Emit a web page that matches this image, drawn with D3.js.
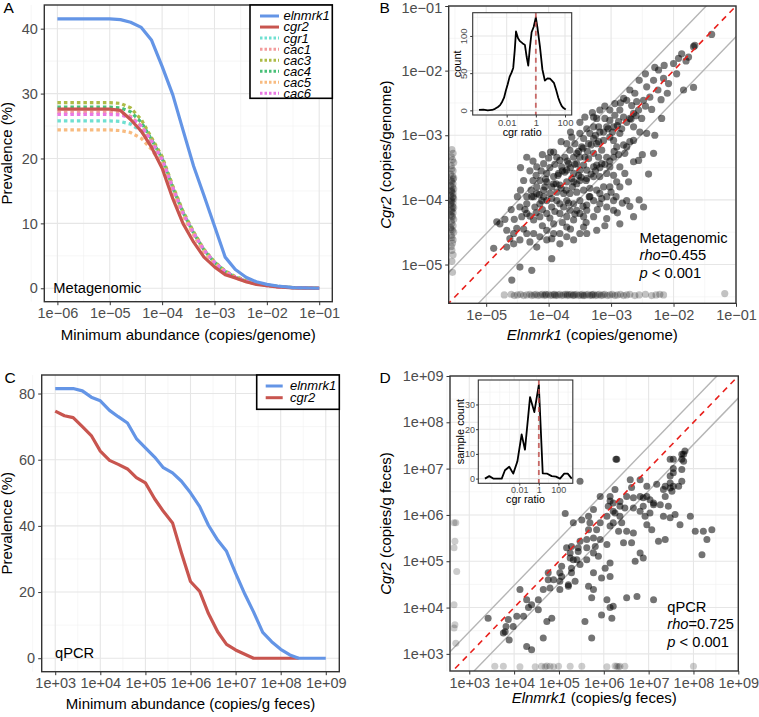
<!DOCTYPE html>
<html lang="en">
<head>
<meta charset="utf-8">
<title>Elnmrk1 / cgr2 prevalence and abundance</title>
<script src="https://cdn.jsdelivr.net/npm/d3@7/dist/d3.min.js"></script>
<style>
  html, body { margin: 0; padding: 0; background: #fff; }
  svg text { font-family: "Liberation Sans", Arial, Helvetica, sans-serif; }
</style>
</head>
<body>
<script>
// ---------------- data ----------------
// panel A: prevalence (%) vs minimum abundance (copies/genome)
var thrA = [1e-6, 3.2e-6, 1e-5, 1.6e-5, 2.5e-5, 4e-5, 6.3e-5, 1e-4, 1.6e-4, 2.5e-4, 4e-4,
            6.3e-4, 1e-3, 1.6e-3, 2.5e-3, 4e-3, 6.3e-3, 1e-2, 1.6e-2, 3.2e-2, 1e-1];
var aElnmrk1 = [41.5,41.5,41.5,41.4,41.0,40.2,38.2,34.2,29.8,24.4,18.8,14.3,9.6,4.8,2.9,1.7,1.0,0.6,0.35,0.1,0];
var aCgr2    = [27.6,27.6,27.6,27.4,26.0,24.2,21.7,18.5,13.8,10.0,7.1,4.8,3.3,2.1,1.6,1.0,0.6,0.4,0.2,0.05,0];
var aCgr1    = [25.8,25.8,25.8,25.7,25.3,24.2,22.2,19.6,15.3,11.5,8.4,5.8,3.9,2.5,1.7,1.1,0.7,0.4,0.2,0.1,0];
var aCac1    = [27.1,27.1,27.1,27.0,26.5,25.0,22.6,19.7,15.2,11.4,8.3,5.7,3.9,2.5,1.7,1.1,0.7,0.4,0.2,0.1,0];
var aCac3    = [28.6,28.6,28.6,28.5,27.8,26.0,23.2,20.3,15.8,11.9,8.7,6.0,4.1,2.7,1.8,1.2,0.8,0.5,0.3,0.1,0];
var aCac4    = [27.9,27.9,27.9,27.8,27.2,25.6,22.9,20.0,15.5,11.7,8.5,5.9,4.0,2.6,1.7,1.1,0.7,0.5,0.3,0.1,0];
var aCac5    = [24.4,24.4,24.4,24.3,24.0,23.1,21.4,19.0,14.9,11.2,8.2,5.6,3.8,2.5,1.6,1.0,0.7,0.4,0.2,0.1,0];
var aCac6    = [26.8,26.8,26.8,26.7,26.3,25.0,22.7,19.9,15.5,11.6,8.5,5.9,4.0,2.6,1.7,1.1,0.7,0.4,0.2,0.1,0];

// panel C: prevalence (%) vs minimum abundance (copies/g feces)
var thrC = [1e3,1.6e3,2.5e3,4e3,6.3e3,1e4,1.6e4,2.5e4,4e4,6.3e4,1e5,1.6e5,2.5e5,4e5,6.3e5,
            1e6,1.6e6,2.5e6,4e6,6.3e6,1e7,1.6e7,2.5e7,4e7,6.3e7,1e8,1.6e8,2.5e8,4e8,6.3e8,1e9];
var cElnmrk1 = [81.5,81.5,81.5,80.8,78.9,77.8,74.9,73.0,71.1,66.4,63.6,60.8,57.6,56.0,53.5,
                50.0,45.8,40.2,35.7,32.3,25.7,19.4,14.0,7.8,5.0,2.7,1.0,0,0,0,0];
var cCgr2    = [74.7,73.3,72.7,70.0,67.3,62.6,59.8,58.6,57.2,54.6,53.0,48.2,44.4,40.9,31.8,
                23.2,20.2,13.5,8.0,4.2,2.5,1.2,0,0,0,0,0,0];

// panel B: log10 (elnmrk1, cgr2) copies/genome, one pair per sample
var bCloud = [
 [-1.39,-1.44],[-1.66,-1.61],[-1.68,-1.63],[-1.87,-1.74],[-1.76,-1.79],[-2.0,-1.89],[-1.92,-1.81],
 [-2.16,-2.12],[-2.24,-1.99],[-2.08,-2.2],[-1.84,-2.3],[-1.68,-2.26],[-2.32,-2.15],
 [-2.43,-2.25],[-2.38,-2.41],[-2.48,-2.46],[-2.59,-2.48],[-2.67,-2.54],[-2.75,-2.46],[-2.56,-2.61],
 [-2.64,-2.66],[-2.86,-2.61],[-2.8,-2.72],[-2.94,-2.69],[-3.02,-2.77],[-2.7,-2.74],[-2.51,-2.74],
 [-2.64,-2.87],[-2.54,-2.95],[-2.43,-2.97],[-2.19,-2.74],[-2.32,-3.28],[-2.64,-3.08],[-2.75,-3.18],
 [-2.86,-2.97],[-2.96,-3.08],[-2.91,-3.18],[-2.78,-3.28],[-2.64,-3.41],[-2.56,-3.39],[-2.8,-2.43],
 [-3.18,-2.61],[-3.23,-2.74],[-3.42,-2.72],[-3.28,-2.87],[-3.39,-2.9],[-3.5,-2.97],[-3.58,-3.13],
 [-3.34,-2.97],[-3.18,-2.95],[-3.07,-2.87],[-3.02,-3.03],[-3.12,-3.08],[-3.23,-3.13],[-3.36,-3.13],
 [-3.47,-3.18],[-3.55,-3.28],[-3.66,-3.23],[-3.74,-3.34],[-3.92,-3.26],[-3.82,-3.39],[-3.68,-3.44],
 [-3.55,-3.44],[-3.42,-3.34],[-3.28,-3.28],[-3.15,-3.23],[-3.07,-3.34],[-2.96,-3.34],[-3.02,-3.49],
 [-3.15,-3.44],[-3.28,-3.49],[-3.39,-3.54],[-3.5,-3.54],[-3.6,-3.59],[-3.74,-3.57],[-3.84,-3.59],
 [-3.92,-3.64],[-4.03,-3.59],[-4.08,-3.44],[-4.19,-3.49],[-4.35,-3.34],[-4.14,-3.7],[-4.03,-3.72],
 [-3.92,-3.75],[-3.82,-3.77],[-3.71,-3.72],[-3.6,-3.72],[-3.5,-3.7],[-3.39,-3.67],[-3.28,-3.64],
 [-3.18,-3.64],[-3.07,-3.59],[-2.96,-3.62],[-2.86,-3.49],[-2.78,-3.59],[-2.91,-3.72],[-3.02,-3.8],
 [-3.12,-3.8],[-3.23,-3.85],[-3.34,-3.82],[-3.44,-3.85],[-3.55,-3.88],[-3.66,-3.9],[-3.76,-3.9],
 [-3.87,-3.88],[-3.98,-3.9],[-4.08,-3.85],[-4.19,-3.9],[-4.24,-3.95],[-4.35,-3.95],[-3.82,-4.06],
 [-3.71,-4.01],[-3.6,-4.06],[-3.5,-4.01],[-3.39,-4.08],[-3.28,-4.01],[-3.18,-4.06],[-3.07,-4.11],
 [-2.96,-4.01],[-2.75,-4.01],[-2.48,-4.11],[-3.95,-4.11],[-4.03,-4.01],[-4.14,-4.06],[-4.27,-3.95],
 [-4.46,-4.11],[-3.82,-4.21],[-3.71,-4.26],[-3.6,-4.31],[-3.5,-4.21],[-3.39,-4.16],[-3.28,-4.26],
 [-3.07,-4.29],[-2.96,-4.16],[-2.86,-4.37],[-2.64,-4.26],[-4.03,-4.21],[-4.14,-4.26],[-4.24,-4.31],
 [-4.35,-4.21],[-3.92,-4.37],[-3.71,-4.42],[-3.5,-4.52],[-3.6,-4.62],[-3.39,-4.52],[-3.82,-4.52],
 [-4.03,-4.47],[-4.14,-4.57],[-4.24,-4.52],[-4.35,-4.52],[-4.46,-4.62],[-4.56,-4.52],[-4.67,-4.47],
 [-4.78,-4.37],[-4.83,-4.34],[-4.51,-4.44],[-4.67,-4.73],[-4.56,-4.68],[-4.46,-5.04],[-4.27,-5.09],
 [-4.59,-5.24],[-3.95,-4.91],[-4.88,-4.75],
 [-3.97,-3.26],[-3.87,-3.34],[-3.71,-3.13],[-3.63,-3.03],[-3.44,-3.05],[-3.28,-3.05],[-3.2,-2.87],
 [-3.1,-2.74],[-2.96,-2.87],[-2.88,-2.79],[-3.02,-2.61],[-2.94,-2.51],[-3.28,-2.72],[-3.79,-3.49],
 [-3.71,-3.54],[-3.63,-3.67],[-3.52,-3.62],[-3.44,-3.46],[-3.36,-3.36],[-3.2,-3.34],[-3.23,-3.46],
 [-3.5,-3.34],[-3.6,-3.34],[-4.06,-3.8],[-3.95,-3.8],[-4.19,-3.8],[-4.11,-4.01],[-4.22,-4.11],
 [-3.87,-4.01],[-3.76,-4.11],[-3.66,-4.16],[-3.55,-4.16],[-3.44,-4.26],[-4.35,-4.06],[-4.43,-4.26],
 [-3.92,-4.52],[-3.71,-4.57],[-3.23,-4.47],[-3.44,-4.42],[-3.82,-4.68],[-4.03,-4.62],[-4.19,-4.73],
 [-3.34,-3.95],[-3.18,-3.9],[-3.07,-3.95],[-2.86,-3.8],[-2.72,-3.72],
 [-4.3,-3.55],[-4.25,-3.7],[-4.2,-3.62],[-4.12,-3.55],[-4.05,-3.68],[-3.98,-3.5],[-3.9,-3.45],
 [-3.85,-3.62],[-3.78,-3.55],[-3.7,-3.4],[-3.65,-3.5],[-3.58,-3.45],[-3.52,-3.25],[-3.45,-3.2],
 [-3.38,-3.25],[-3.32,-3.15],[-3.25,-3.0],[-3.2,-3.1],[-3.12,-2.95],[-3.05,-2.9],[-2.98,-2.95],
 [-2.9,-2.85],[-2.83,-2.9],[-2.75,-2.8],[-2.68,-2.75],[-2.6,-2.7],
 [-4.28,-3.85],[-4.15,-3.92],[-4.08,-3.95],[-3.95,-3.98],[-3.88,-3.75],[-3.8,-3.82],[-3.72,-3.85],
 [-3.62,-3.8],[-3.55,-3.75],[-3.48,-3.65],[-3.4,-3.7],[-3.32,-3.6],[-3.25,-3.55],[-3.18,-3.5],
 [-3.1,-3.45],[-3.02,-3.4],[-2.95,-3.25],[-2.88,-3.3],[-2.8,-3.15],[-2.7,-3.1],
 [-4.38,-4.15],[-4.3,-4.25],[-4.2,-4.2],[-4.1,-4.15],[-3.98,-4.28],[-3.9,-4.18],[-3.78,-4.35],
 [-3.68,-4.05],[-3.58,-4.22],[-3.45,-4.1],[-3.35,-3.95],[-3.22,-4.15],[-3.15,-3.98],[-3.0,-3.88],
 [-2.92,-3.95],[-2.82,-4.05],
 [-4.45,-3.85],[-4.5,-3.95],[-4.4,-3.7],[-4.6,-4.15],[-4.55,-4.3],[-4.7,-4.3],[-4.62,-4.6],
 [-4.4,-4.45],[-4.3,-4.65],[-4.1,-4.4],[-3.95,-4.6],[-3.65,-4.45],[-3.4,-4.35],[-3.1,-4.4],
 [-2.9,-4.2],[-2.7,-4.1],[-2.55,-4.0],[-2.4,-3.6],[-2.5,-3.3],[-2.3,-3.0],[-2.35,-2.6],
 [-2.45,-2.55],[-2.62,-2.35],[-2.7,-2.3],[-2.85,-2.5],[-3.1,-2.55],[-3.3,-2.65],[-3.5,-2.8],
 [-3.65,-2.95],[-3.8,-3.1],[-4.0,-3.35],[-4.1,-3.3],[-4.25,-3.4],[-4.45,-3.5],
 [-2.2,-2.45],[-2.25,-2.3],[-2.1,-2.35],[-2.55,-2.15],[-2.45,-2.05],[-2.3,-1.95],[-2.15,-1.92],
 [-1.95,-2.05],[-1.8,-1.85]
];
// samples with no elnmrk1 detected (left strip) and no cgr2 detected (bottom strip)
var bZeroElnmrk = [
 [-5.55,-3.22],[-5.53,-3.28],[-5.56,-3.33],[-5.54,-3.38],[-5.52,-3.42],[-5.56,-3.47],[-5.55,-3.52],
 [-5.53,-3.55],[-5.57,-3.6],[-5.54,-3.63],[-5.52,-3.66],[-5.56,-3.7],[-5.55,-3.72],[-5.53,-3.75],
 [-5.57,-3.78],[-5.54,-3.8],[-5.52,-3.83],[-5.56,-3.86],[-5.55,-3.88],[-5.53,-3.9],[-5.57,-3.93],
 [-5.54,-3.96],[-5.52,-3.98],[-5.56,-4.0],[-5.55,-4.02],[-5.53,-4.05],[-5.57,-4.07],[-5.54,-4.1],
 [-5.52,-4.12],[-5.56,-4.15],[-5.55,-4.18],[-5.53,-4.2],[-5.57,-4.23],[-5.54,-4.26],[-5.52,-4.3],
 [-5.56,-4.33],[-5.55,-4.36],[-5.53,-4.4],[-5.57,-4.43],[-5.54,-4.47],[-5.52,-4.5],[-5.56,-4.55],
 [-5.55,-4.58],[-5.53,-4.62],[-5.54,-4.67],[-5.56,-4.72],[-5.55,-4.78],[-5.53,-4.85],[-5.55,-4.95],
 [-5.54,-5.12],[-5.55,-3.85],[-5.53,-3.95],[-5.56,-4.04],[-5.54,-4.14],[-5.55,-4.25],[-5.53,-3.68],
 [-5.56,-4.45]
];
var bZeroCgr = [
 [-4.71,-5.47],[-4.6,-5.46],[-4.55,-5.48],[-4.5,-5.47],[-4.45,-5.46],[-4.4,-5.48],[-4.35,-5.47],
 [-4.3,-5.46],[-4.27,-5.48],[-4.23,-5.47],[-4.2,-5.46],[-4.17,-5.48],[-4.13,-5.47],[-4.1,-5.46],
 [-4.07,-5.48],[-4.04,-5.47],[-4.0,-5.46],[-3.97,-5.48],[-3.94,-5.47],[-3.91,-5.46],[-3.88,-5.48],
 [-3.85,-5.47],[-3.82,-5.46],[-3.79,-5.48],[-3.76,-5.47],[-3.73,-5.46],[-3.7,-5.48],[-3.67,-5.47],
 [-3.64,-5.46],[-3.61,-5.48],[-3.58,-5.47],[-3.55,-5.46],[-3.52,-5.48],[-3.49,-5.47],[-3.46,-5.46],
 [-3.43,-5.48],[-3.4,-5.47],[-3.37,-5.46],[-3.34,-5.48],[-3.31,-5.47],[-3.28,-5.46],[-3.25,-5.48],
 [-3.22,-5.47],[-3.19,-5.46],[-3.16,-5.48],[-3.13,-5.47],[-3.1,-5.46],[-3.06,-5.48],[-3.02,-5.47],
 [-2.98,-5.46],[-2.94,-5.48],[-2.9,-5.47],[-2.85,-5.46],[-2.8,-5.48],[-2.75,-5.47],[-2.7,-5.46],
 [-2.62,-5.48],[-2.55,-5.47],[-2.45,-5.46],[-2.35,-5.48],[-2.28,-5.47],[-2.22,-5.46],[-2.16,-5.47],
 [-1.18,-5.45],[-3.9,-5.47],[-3.6,-5.47],[-3.3,-5.47],[-3.7,-5.46],[-3.45,-5.48],[-4.05,-5.46]
];
// inset B: log10 cgr ratio vs count
var insBRatio = [-3.9,-3.6,-3.3,-3.0,-2.8,-2.6,-2.45,-2.3,-2.18,-2.05,-1.93,-1.8,-1.66,-1.55,-1.45,
                 -1.36,-1.22,-1.09,-0.9,-0.75,-0.63,-0.52,-0.42,-0.29,-0.15,0,0.12,0.28,0.45,0.62,
                 0.8,0.97,1.1,1.24,1.4,1.54,1.65,1.77,1.9,2.05];
var insBCount = [0.5,1,0,0.5,2,4.5,7,12,17,27,35,45,51,57,80,106,97,93,90,88,72,60,82,105,112,125,
                 110,86,55,40,43,42.5,40,37,27,17,11,6,3,1];

// panel D: log10 (elnmrk1, cgr2) copies/g feces
var dCloud = [
 [6.27,7.2],[5.47,6.73],[5.14,6.03],[5.51,5.89],[5.92,6.4],[6.25,6.55],[6.14,6.4],[6.1,6.19],
 [6.21,6.08],[6.36,6.19],[6.51,6.4],[6.66,6.37],[6.81,6.4],[6.96,6.4],[6.81,6.76],[6.96,6.62],
 [7.18,6.66],[6.62,6.59],[6.59,6.76],[6.88,6.37],[7.03,6.33],[7.11,6.22],[7.26,6.22],[7.37,6.4],
 [7.33,6.55],[7.52,6.51],[7.48,6.84],[7.55,6.91],[7.55,7.2],[7.74,7.2],[7.55,7.0],[7.74,6.98],
 [7.78,7.16],[7.67,6.62],[7.55,6.62],[7.74,6.73],[7.48,6.69],[7.37,6.62],[7.48,7.2],[7.78,7.31],
 [7.74,7.31],[7.48,6.58],[7.81,7.38],[7.44,6.19],[7.59,6.01],[7.33,5.97],[7.48,5.94],[7.7,5.79],
 [7.93,5.97],[8.04,5.65],[8.22,5.65],[8.41,5.68],[8.3,5.47],[8.19,5.14],[7.37,5.47],[7.22,5.43],
 [7.07,5.68],[6.96,5.79],[6.88,5.07],[6.7,5.0],[6.81,5.18],[6.66,5.61],[6.51,5.65],[6.62,5.4],
 [6.44,5.4],[6.4,5.83],[6.33,5.65],[6.21,5.83],[6.14,5.76],[6.07,5.36],[5.92,5.47],[5.81,5.32],
 [5.62,5.47],[5.66,5.97],[5.69,5.83],[5.66,5.68],[5.77,5.5],[5.88,5.11],[5.77,5.18],[5.47,5.43],
 [5.28,5.32],[5.17,5.29],[5.25,5.18],[5.43,5.21],[5.62,5.03],[5.47,4.93],[5.28,4.75],[5.21,4.49],
 [5.21,4.46],[5.02,4.57],[5.06,4.67],[4.88,4.6],[4.76,4.75],[4.8,4.42],[4.76,4.6],[4.65,4.39],
 [4.54,4.17],[4.39,4.06],[4.28,4.17],[4.13,4.39],[4.32,4.0],[4.54,3.95],[4.73,3.7],[4.84,3.77],
 [4.21,3.81],[4.06,3.81],[3.98,3.59],[3.87,3.74],[3.82,3.59],[3.8,3.48],[3.76,3.45],[3.89,3.3],
 [3.42,3.77],[4.28,3.16],[4.39,3.09],[4.65,3.34],[5.02,4.75],[5.06,4.89],[5.28,4.85],[5.36,4.57],
 [5.66,4.46],[5.77,4.75],[6.03,4.85],[6.14,4.96],[6.14,4.67],[6.07,4.17],[5.73,4.21],[5.73,3.34],
 [6.14,4.0],[6.21,4.03],[6.51,4.21],[6.74,4.24],[7.11,4.17],[6.18,3.77],[5.95,3.84],[5.58,3.7],
 [5.4,5.03],[5.43,5.29],[5.62,5.29],[5.84,5.68],[5.92,5.83],[6.07,5.97],[6.25,6.04],[6.36,5.97],
 [6.47,6.15],[6.66,6.15],[6.81,6.08],[6.88,6.19],[6.92,5.97],[7.11,6.26],[7.03,6.04],[6.36,6.29],
 [6.21,6.26],[6.14,6.3],[5.77,6.12],[5.32,5.83],[5.32,5.03],[5.25,5.07],[5.77,4.39],[5.95,4.64],
 [5.02,4.39],[6.29,7.2]
];
var dZeroElnmrk = [[2.66,5.83],[2.7,5.83],[2.68,5.43],[2.66,5.29],[2.72,4.78],[2.66,4.06],
                   [2.68,3.63],[2.66,3.56],[2.7,3.23]];
var dZeroCgr = [[3.57,2.73],[3.76,2.73],[4.13,2.72],[4.47,2.72],[4.61,2.73],[4.69,2.72],[4.73,2.74],
                [4.8,2.73],[4.88,2.72],[4.99,2.73],[5.25,2.73],[5.51,2.73],[6.07,2.72],[6.25,2.74],
                [6.29,2.73],[6.33,2.72],[6.36,2.73],[6.47,2.73],[8.0,2.73]];
// inset D: log10 cgr ratio vs sample count
var insDRatio = [-5.52,-5.08,-4.67,-3.8,-3.47,-3.03,-2.62,-2.2,-1.76,-1.42,-0.9,-0.46,0,0.4,0.87,
                 1.32,1.76,2.17,2.6,2.96,3.37];
var insDCount = [0,1,0,0,3.4,4.8,2,6.9,17.9,11.7,33,26.9,37.9,2.1,2,1,0.8,0,2,2,0];

// ---------------- drawing ----------------
var BLUE = "#6495e6", RED = "#c8554f", INK = "#333333", TICKTXT = "#4d4d4d";

var svg = d3.select("body").append("svg")
    .attr("width", 759).attr("height", 717);

function sci(v) {
  var e = Math.round(Math.log10(v));
  var a = Math.abs(e);
  return "1e" + (e < 0 ? "\u2212" : "+") + (a < 10 ? "0" : "") + a;
}
function decades(lo, hi) { return d3.range(lo, hi + 1).map(function(e) { return Math.pow(10, e); }); }
function halfDecades(lo, hi) { return d3.range(lo, hi).map(function(e) { return Math.pow(10, e + 0.5); }); }

function makePanel(o) {
  var g = svg.append("g").attr("transform", "translate(" + o.left + "," + o.top + ")");
  g.append("rect").attr("width", o.w).attr("height", o.h).attr("fill", "#fff");
  g.append("clipPath").attr("id", "clip" + o.name)
    .append("rect").attr("width", o.w).attr("height", o.h);
  var grid = g.append("g");
  grid.selectAll(".vmin").data(o.xMinor).join("line")
      .attr("x1", o.x).attr("x2", o.x).attr("y1", 0).attr("y2", o.h)
      .attr("stroke", "#f0f0f0").attr("stroke-width", 0.6);
  grid.selectAll(".hmin").data(o.yMinor).join("line")
      .attr("y1", o.y).attr("y2", o.y).attr("x1", 0).attr("x2", o.w)
      .attr("stroke", "#f0f0f0").attr("stroke-width", 0.6);
  grid.selectAll(".vmaj").data(o.xMajor).join("line")
      .attr("x1", o.x).attr("x2", o.x).attr("y1", 0).attr("y2", o.h)
      .attr("stroke", "#e6e6e6").attr("stroke-width", 1.1);
  grid.selectAll(".hmaj").data(o.yMajor).join("line")
      .attr("y1", o.y).attr("y2", o.y).attr("x1", 0).attr("x2", o.w)
      .attr("stroke", "#e6e6e6").attr("stroke-width", 1.1);

  var ax = g.append("g").attr("transform", "translate(0," + o.h + ")")
      .call(d3.axisBottom(o.x).tickValues(o.xMajor).tickFormat(o.xFmt).tickSize(o.tick).tickPadding(o.pad));
  var ay = g.append("g")
      .call(d3.axisLeft(o.y).tickValues(o.yMajor).tickFormat(o.yFmt).tickSize(o.tick).tickPadding(o.pad));
  [ax, ay].forEach(function(a) {
    a.select(".domain").remove();
    a.selectAll("line").attr("stroke", INK).attr("stroke-width", o.tickW || 1);
    a.selectAll("text").attr("fill", TICKTXT).attr("font-size", o.fs)
      .attr("font-family", '"Liberation Sans", Arial, sans-serif');
  });
  var plot = g.append("g").attr("clip-path", "url(#clip" + o.name + ")");
  return {
    g: g, plot: plot, ax: ax, ay: ay,
    border: function() {
      g.append("rect").attr("width", o.w).attr("height", o.h)
        .attr("fill", "none").attr("stroke", INK).attr("stroke-width", o.bw || 1.4);
    }
  };
}

function label(x, y, txt, size, opts) {
  opts = opts || {};
  var t = svg.append("text").attr("x", x).attr("y", y).attr("font-size", size)
      .attr("fill", opts.fill || "#000").attr("text-anchor", opts.anchor || "start");
  if (opts.rotate) t.attr("transform", "rotate(-90," + x + "," + y + ")");
  (Array.isArray(txt) ? txt : [[txt, false]]).forEach(function(p) {
    t.append("tspan").text(p[0]).attr("font-style", p[1] ? "italic" : "normal");
  });
  return t;
}

var line = d3.line();

// ---- Panel A ----
(function() {
  var x = d3.scaleLog().domain([Math.pow(10, -6.25), Math.pow(10, -0.75)]).range([0, 288]);
  var y = d3.scaleLinear().domain([-2.07, 43.65]).range([296.7, 0]);
  var p = makePanel({name: "A", left: 44.3, top: 5, w: 288, h: 296.7, x: x, y: y,
    xMajor: decades(-6, -1), xMinor: halfDecades(-7, -1),
    yMajor: [0, 10, 20, 30, 40], yMinor: [5, 15, 25, 35],
    xFmt: sci, yFmt: d3.format("d"), tick: 3.5, pad: 3, fs: 14.5});

  var dotted = [
    {k: "cgr1", v: aCgr1, c: "#6fe0d1"},
    {k: "cac1", v: aCac1, c: "#f39c9c"},
    {k: "cac3", v: aCac3, c: "#adbb47"},
    {k: "cac4", v: aCac4, c: "#48c078"},
    {k: "cac5", v: aCac5, c: "#f8bb80"},
    {k: "cac6", v: aCac6, c: "#ea78e4"}
  ];
  dotted.forEach(function(s) {
    p.plot.append("path")
      .attr("d", line(thrA.map(function(t, i) { return [x(t), y(s.v[i])]; })))
      .attr("fill", "none").attr("stroke", s.c).attr("stroke-width", 3.2)
      .attr("stroke-dasharray", "3.5,3");
  });
  [{v: aCgr2, c: RED}, {v: aElnmrk1, c: BLUE}].forEach(function(s) {
    p.plot.append("path")
      .attr("d", line(thrA.map(function(t, i) { return [x(t), y(s.v[i])]; })))
      .attr("fill", "none").attr("stroke", s.c).attr("stroke-width", 3.2)
      .attr("stroke-linejoin", "round");
  });
  p.g.append("text").attr("x", 9).attr("y", y(0) + 5).attr("font-size", 14.7).text("Metagenomic");
  p.border();

  // legend
  var keys = [{k: "elnmrk1", c: BLUE, d: null}, {k: "cgr2", c: RED, d: null}].concat(
    dotted.map(function(s) { return {k: s.k, c: s.c, d: "2.5,2"}; }));
  var leg = svg.append("g");
  leg.append("rect").attr("x", 250).attr("y", 5).attr("width", 82.3).attr("height", 93.3)
    .attr("fill", "#fff").attr("stroke", "#000").attr("stroke-width", 1.6);
  keys.forEach(function(s, i) {
    var yy = 16 + i * 11.05;
    leg.append("line").attr("x1", 260).attr("x2", 279).attr("y1", yy).attr("y2", yy)
      .attr("stroke", s.c).attr("stroke-width", 3).attr("stroke-dasharray", s.d);
    leg.append("text").attr("x", 283.5).attr("y", yy + 4.4).attr("font-size", 13)
      .attr("font-style", "italic").text(s.k);
  });
})();

// ---- Panel B ----
(function() {
  var x = d3.scaleLog().domain([Math.pow(10, -5.6), 0.1]).range([0, 287.3]);
  var y = d3.scaleLog().domain([Math.pow(10, -5.6), 0.1]).range([297.3, 0]);
  var p = makePanel({name: "B", left: 448.7, top: 6, w: 287.3, h: 297.3, x: x, y: y,
    xMajor: decades(-5, -1), xMinor: halfDecades(-6, -1),
    yMajor: decades(-5, -1), yMinor: halfDecades(-6, -1),
    xFmt: sci, yFmt: sci, tick: 3.5, pad: 3, fs: 14.5});
  // keep the top tick label inside the page
  p.ay.selectAll(".tick text").filter(function(d) { return d === 0.1; }).attr("dy", "0.45em");
  var lo = Math.pow(10, -6), hi = 1;
  [1 / 3, 3].forEach(function(f) {
    p.plot.append("path").attr("d", line([[x(lo), y(lo * f)], [x(hi), y(hi * f)]]))
      .attr("stroke", "#b5b5b5").attr("stroke-width", 1.4).attr("fill", "none");
  });
  function dots(arr, op) {
    p.plot.append("g").selectAll("circle").data(arr).join("circle")
      .attr("cx", function(d) { return x(Math.pow(10, d[0])); })
      .attr("cy", function(d) { return y(Math.pow(10, d[1])); })
      .attr("r", 3.6).attr("fill", "#000").attr("fill-opacity", op);
  }
  dots(bZeroElnmrk, 0.24);
  dots(bZeroCgr, 0.24);
  dots(bCloud, 0.52);
  p.plot.append("path").attr("d", line([[x(lo), y(lo)], [x(hi), y(hi)]]))
    .attr("stroke", "#e8201c").attr("stroke-width", 1.6).attr("stroke-dasharray", "6,5")
    .attr("fill", "none");
  p.border();

  label(639.5, 242.7, "Metagenomic", 14.7);
  label(639.5, 260.2, [["rho", true], ["=0.455", false]], 14.7);
  label(639.5, 277.7, [["p", true], [" < 0.001", false]], 14.7);

  // inset
  var ix = d3.scaleLog().domain([Math.pow(10, -4.33), Math.pow(10, 2.46)]).range([0, 99]);
  var iy = d3.scaleLinear().domain([-6.25, 131.25]).range([102.3, 0]);
  var ip = makePanel({name: "Bi", left: 472.7, top: 12.7, w: 99, h: 102.3, x: ix, y: iy,
    xMajor: [0.01, 1, 100], xMinor: [1e-4, 1e-3, 0.1, 10],
    yMajor: [0, 50, 100], yMinor: [25, 75, 125],
    xFmt: d3.format("~g"), yFmt: d3.format("d"), tick: 2.5, pad: 1.5, fs: 9.5, bw: 1.1});
  // rotated y tick labels, as in the original inset
  ip.ay.selectAll(".tick text")
    .attr("text-anchor", "middle").attr("dy", null).attr("x", 0).attr("y", -5.3)
    .attr("transform", "rotate(-90)");
  ip.plot.append("path").attr("d", line(insBRatio.map(function(r, i) {
      return [ix(Math.pow(10, r)), iy(insBCount[i])]; })))
    .attr("fill", "none").attr("stroke", "#000").attr("stroke-width", 1.8)
    .attr("stroke-linejoin", "round");
  ip.plot.append("line").attr("x1", ix(1)).attr("x2", ix(1)).attr("y1", 0).attr("y2", 102.3)
    .attr("stroke", "#c0504d").attr("stroke-opacity", 0.85).attr("stroke-width", 1.8)
    .attr("stroke-dasharray", "5,4");
  ip.border();
  label(522.2, 136, "cgr ratio", 10.8, {anchor: "middle"});
  label(461.5, 63.8, "count", 11, {anchor: "middle", rotate: true});
})();

// ---- Panel C ----
(function() {
  var x = d3.scaleLog().domain([Math.pow(10, 2.7), Math.pow(10, 9.3)]).range([0, 297.6]);
  var y = d3.scaleLinear().domain([-4.07, 85.6]).range([296.7, 0]);
  var p = makePanel({name: "C", left: 41.7, top: 375, w: 297.6, h: 296.7, x: x, y: y,
    xMajor: decades(3, 9), xMinor: halfDecades(2, 9),
    yMajor: [0, 20, 40, 60, 80], yMinor: [10, 30, 50, 70],
    xFmt: sci, yFmt: d3.format("d"), tick: 3.5, pad: 3, fs: 14.5});
  [{v: cCgr2, c: RED}, {v: cElnmrk1, c: BLUE}].forEach(function(s) {
    p.plot.append("path")
      .attr("d", line(s.v.map(function(val, i) { return [x(thrC[i]), y(val)]; })))
      .attr("fill", "none").attr("stroke", s.c).attr("stroke-width", 3.2)
      .attr("stroke-linejoin", "round");
  });
  p.g.append("text").attr("x", 13.3).attr("y", y(0) - 0.5).attr("font-size", 14.7).text("qPCR");
  p.border();

  var leg = svg.append("g");
  leg.append("rect").attr("x", 256.7).attr("y", 375).attr("width", 82.6).attr("height", 34.3)
    .attr("fill", "#fff").attr("stroke", "#000").attr("stroke-width", 1.6);
  [{k: "elnmrk1", c: BLUE}, {k: "cgr2", c: RED}].forEach(function(s, i) {
    var yy = 386 + i * 11.7;
    leg.append("line").attr("x1", 265.7).attr("x2", 282.7).attr("y1", yy).attr("y2", yy)
      .attr("stroke", s.c).attr("stroke-width", 3);
    leg.append("text").attr("x", 290).attr("y", yy + 4.4).attr("font-size", 13)
      .attr("font-style", "italic").text(s.k);
  });
})();

// ---- Panel D ----
(function() {
  var x = d3.scaleLog().domain([Math.pow(10, 2.57), 1e9]).range([0, 288.3]);
  var y = d3.scaleLog().domain([Math.pow(10, 2.63), 1e9]).range([295, 0]);
  var p = makePanel({name: "D", left: 450, top: 376, w: 288.3, h: 295, x: x, y: y,
    xMajor: decades(3, 9), xMinor: halfDecades(2, 9),
    yMajor: decades(3, 9), yMinor: halfDecades(2, 9),
    xFmt: sci, yFmt: sci, tick: 3.5, pad: 3, fs: 14.5});
  var lo = 100, hi = 1e10;
  [1 / 3, 3].forEach(function(f) {
    p.plot.append("path").attr("d", line([[x(lo), y(lo * f)], [x(hi), y(hi * f)]]))
      .attr("stroke", "#b5b5b5").attr("stroke-width", 1.4).attr("fill", "none");
  });
  function dots(arr, op) {
    p.plot.append("g").selectAll("circle").data(arr).join("circle")
      .attr("cx", function(d) { return x(Math.pow(10, d[0])); })
      .attr("cy", function(d) { return y(Math.pow(10, d[1])); })
      .attr("r", 3.5).attr("fill", "#000").attr("fill-opacity", op);
  }
  dots(dZeroElnmrk, 0.2);
  dots(dZeroCgr, 0.2);
  dots(dCloud, 0.55);
  p.plot.append("path").attr("d", line([[x(lo), y(lo)], [x(hi), y(hi)]]))
    .attr("stroke", "#e8201c").attr("stroke-width", 1.6).attr("stroke-dasharray", "6,5")
    .attr("fill", "none");
  p.border();

  label(667.3, 611.7, "qPCR", 14.7);
  label(667.3, 629.2, [["rho", true], ["=0.725", false]], 14.7);
  label(667.3, 646.7, [["p", true], [" < 0.001", false]], 14.7);

  // inset
  var ix = d3.scaleLog().domain([Math.pow(10, -6.2), Math.pow(10, 3.48)]).range([0, 94.5]);
  var iy = d3.scaleLinear().domain([-1.9, 39.9]).range([103.3, 0]);
  var ip = makePanel({name: "Di", left: 478.3, top: 380, w: 94.5, h: 103.3, x: ix, y: iy,
    xMajor: [0.01, 1, 100], xMinor: [1e-5, 1e-4, 1e-3, 0.1, 10, 1000],
    yMajor: [0, 10, 20, 30], yMinor: [5, 15, 25, 35],
    xFmt: d3.format("~g"), yFmt: d3.format("d"), tick: 2.2, pad: 1.2, fs: 9, bw: 1.1});
  ip.plot.append("path").attr("d", line(insDRatio.map(function(r, i) {
      return [ix(Math.pow(10, r)), iy(insDCount[i])]; })))
    .attr("fill", "none").attr("stroke", "#000").attr("stroke-width", 1.8)
    .attr("stroke-linejoin", "round");
  ip.plot.append("line").attr("x1", ix(1)).attr("x2", ix(1)).attr("y1", 0).attr("y2", 103.3)
    .attr("stroke", "#c0504d").attr("stroke-opacity", 0.85).attr("stroke-width", 1.8)
    .attr("stroke-dasharray", "5,4");
  ip.border();
  label(525.5, 503, "cgr ratio", 10.8, {anchor: "middle"});
  label(464, 431.6, "sample count", 11, {anchor: "middle", rotate: true});
})();

// ---- axis titles and panel letters ----
label(188.3, 339.5, "Minimum abundance (copies/genome)", 15, {anchor: "middle"});
label(12.5, 153.3, "Prevalence (%)", 15, {anchor: "middle", rotate: true});
label(592.3, 339.5, [["Elnmrk1", true], [" (copies/genome)", false]], 15, {anchor: "middle"});
label(391, 154.6, [["Cgr2", true], [" (copies/genome)", false]], 15, {anchor: "middle", rotate: true});
label(190.5, 708.5, "Minimum abundance (copies/g feces)", 15, {anchor: "middle"});
label(12.5, 523.3, "Prevalence (%)", 15, {anchor: "middle", rotate: true});
label(594.2, 703, [["Elnmrk1", true], [" (copies/g feces)", false]], 15, {anchor: "middle"});
label(391, 523.5, [["Cgr2", true], [" (copies/g feces)", false]], 15, {anchor: "middle", rotate: true});

label(3.5, 12.5, "A", 15.5);
label(379.5, 12.5, "B", 15.5);
label(4.5, 382.5, "C", 15.5);
label(379.5, 383, "D", 15.5);
</script>
</body>
</html>
